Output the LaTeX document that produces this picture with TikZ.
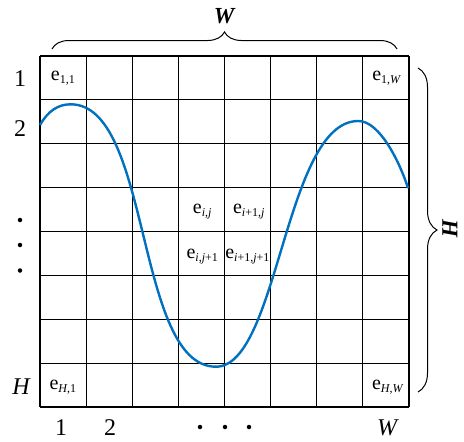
\documentclass[tikz,border=0pt]{standalone}
\usepackage{fontspec}
\setmainfont{Liberation Serif}
\usepackage{xcolor}
\usepackage{tikz}
\usetikzlibrary{decorations.pathreplacing,positioning}
\definecolor{curveblue}{RGB}{0,112,192}
\newcommand{\cellsub}[1]{\textsubscript{\fontsize{12}{12}\selectfont #1}}
\tikzset{
  cell/.style={font=\fontsize{20}{22}\selectfont,inner sep=0pt},
  idxlabel/.style={font=\fontsize{24}{26}\selectfont,inner sep=0pt},
  dimlabel/.style={font=\fontsize{23}{25}\selectfont\bfseries\itshape,inner sep=0pt},
  dotmark/.style={circle,fill=black,inner sep=0pt,minimum size=4.5pt},
  gridline/.style={line width=1.1pt},
  bracestyle/.style={decorate,decoration={brace,amplitude=#1},line width=1pt},
  wave/.style={draw=curveblue,line width=2.4pt}
}

\begin{document}
\begin{tikzpicture}[x=1pt,y=-1pt]
  \useasboundingbox (0,0) rectangle (464,442);
  % grid of cells
  \foreach \i in {0,...,8} {
    \draw[gridline] ({40+46.125*\i},56) -- ({40+46.125*\i},407);
    \draw[gridline] (40,{56+43.875*\i}) -- (409,{56+43.875*\i});
  }
  % the wave
  \coordinate (ws) at (40,125);
  \coordinate (wp1) at (70.7,104.3);
  \coordinate (wm) at (216,366.7);
  \coordinate (wp2) at (358.3,121);
  \coordinate (we) at (408,188);
  \draw[wave] (ws) .. controls (48,111) and (58,104.3) .. (wp1)
    .. controls (151.7,104.3) and (135,366.7) .. (wm)
    .. controls (278.4,366.7) and (284.9,121) .. (wp2)
    .. controls (380,121) and (400,163) .. (we);
  % cell labels
  \node[cell] (e11) at (63.1,78.5) {e\cellsub{1,1}};
  \node[cell] (e1W) at (387,78.5) {e\cellsub{1,\textit{W}}};
  \node[cell] (eH1) at (63.1,387) {e\cellsub{\textit{H},1}};
  \node[cell] (eHW) at (388,387) {e\cellsub{\textit{H},\textit{W}}};
  \node[cell] (eij) at (202.5,212) {e\cellsub{\textit{i},\textit{j}}};
  \node[cell] (eipj) at (249,212) {e\cellsub{\textit{i}+1,\textit{j}}};
  \node[cell] (eijp) at (202.5,257) {e\cellsub{\textit{i},\textit{j}+1}};
  \node[cell] (eipjp) at (247.6,257) {e\cellsub{\textit{i}+1,\textit{j}+1}};
  % row indices
  \node[idxlabel] (r1) at (20,79) {1};
  \node[idxlabel] (r2) at (20,129) {2};
  \node[dotmark] (rd1) at (20,220) {};
  \node[dotmark] (rd2) at (20,245) {};
  \node[dotmark] (rd3) at (20,270.5) {};
  \node[idxlabel] (rH) at (21.5,387) {\textit{H}};
  % column indices
  \node[idxlabel] (c1) at (61,428) {1};
  \node[idxlabel] (c2) at (110,428) {2};
  \node[dotmark] (cd1) at (200,427) {};
  \node[dotmark] (cd2) at (225,427) {};
  \node[dotmark] (cd3) at (249,427) {};
  \node[idxlabel] (cW) at (388,428) {\textit{W}};
  % braces
  \coordinate (wl) at (52,49);
  \coordinate (wr) at (397,49);
  \coordinate (ht) at (418,68);
  \coordinate (hb) at (418,392);
  \draw[bracestyle=17pt] (wl) -- (wr);
  \draw[bracestyle=19pt] (ht) -- (hb);
  \node[dimlabel] (wlab) at (224,16) {W};
  \node[dimlabel,rotate=-90] (hlab) at (450,228) {H};
\end{tikzpicture}
\end{document}
